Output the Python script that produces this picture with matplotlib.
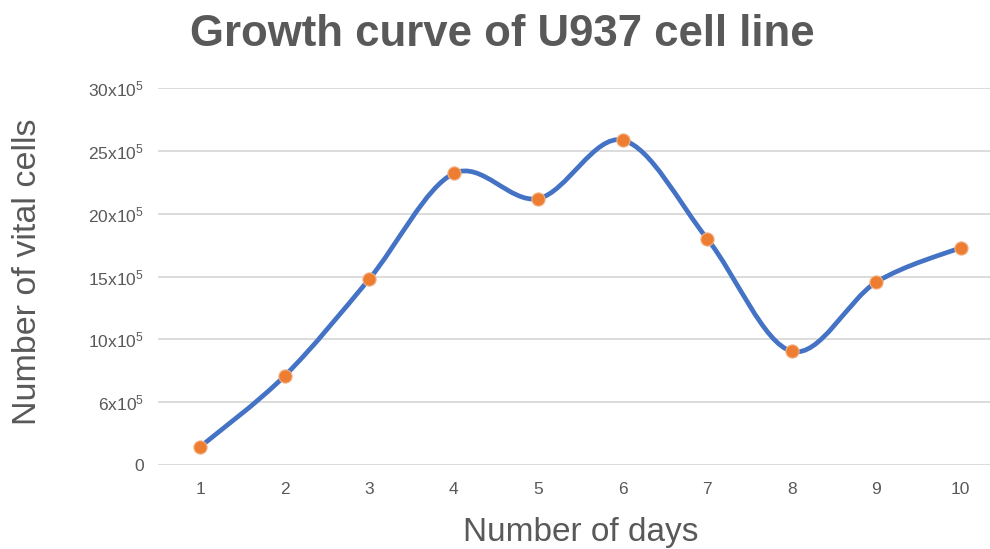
import numpy as np
import matplotlib.pyplot as plt
from matplotlib.path import Path
from matplotlib.patches import PathPatch

plt.rcParams['mathtext.fontset'] = 'custom'
plt.rcParams['mathtext.rm'] = 'Liberation Sans'
plt.rcParams['mathtext.it'] = 'Liberation Sans'

# data (cells x10^5)
days = [1, 2, 3, 4, 5, 6, 7, 8, 9, 10]
cells = [1.45, 7.1, 14.8, 23.2, 21.2, 25.85, 18.0, 9.05, 14.55, 17.3]
ytick_vals = [0, 5, 10, 15, 20, 25, 30]
ytick_labels = ['0', r'6x10$^5$', r'10x10$^5$', r'15x10$^5$', r'20x10$^5$', r'25x10$^5$', r'30x10$^5$']

grey = '#595959'

fig = plt.figure(figsize=(9.9, 5.49), dpi=100)
ax = fig.add_axes([158 / 990, 84 / 549, 845 / 990, 377 / 549])

# smooth line like the spreadsheet "smoothed line" option (cubic Bezier segments)
pts = np.column_stack([days, cells]).astype(float)
ext = np.vstack([pts[0], pts, pts[-1]])
verts = [tuple(pts[0])]
codes = [Path.MOVETO]
for i in range(len(pts) - 1):
    p0, p1, p2, p3 = ext[i], ext[i + 1], ext[i + 2], ext[i + 3]
    c1 = p1 + (p2 - p0) / 6
    c2 = p2 - (p3 - p1) / 6
    verts += [tuple(c1), tuple(c2), tuple(p2)]
    codes += [Path.CURVE4] * 3
ax.add_patch(PathPatch(Path(verts, codes), facecolor='none', edgecolor='#4472C4',
                       lw=3.4, capstyle='round', joinstyle='round', zorder=3))

ax.plot(days, cells, linestyle='none', marker='o', markersize=9.5,
        markerfacecolor='#ED7D31', markeredgecolor='#F4B183', markeredgewidth=0.8, zorder=4)

ax.set_xlim(0.5, 10.5)
ax.set_ylim(0, 30)
ax.set_yticks(ytick_vals)
ax.set_yticklabels(ytick_labels, family='Liberation Sans', fontsize=12.5, color=grey)
ax.set_xticks(days)
ax.set_xticklabels([str(d) for d in days], family='Liberation Sans', fontsize=12.5, color=grey)
ax.tick_params(length=0, pad=12)
ax.tick_params(axis='y', pad=10)
ax.grid(axis='y', color='#D9D9D9', lw=1.3)
ax.set_axisbelow(True)
for s in ax.spines.values():
    s.set_visible(False)

fig.text(0.5076, 0.937, 'Growth curve of U937 cell line', ha='center', va='center',
         family='Liberation Sans', weight='bold', fontsize=31.5, color=grey)
fig.text(0.587, 0.03, 'Number of days', ha='center', va='center',
         family='Liberation Sans', fontsize=24, color=grey)
fig.text(0.028, 0.505, 'Number of vital cells', ha='center', va='center', rotation=90,
         family='Liberation Sans', fontsize=24.5, color=grey)

plt.savefig('out.png', dpi=100)
